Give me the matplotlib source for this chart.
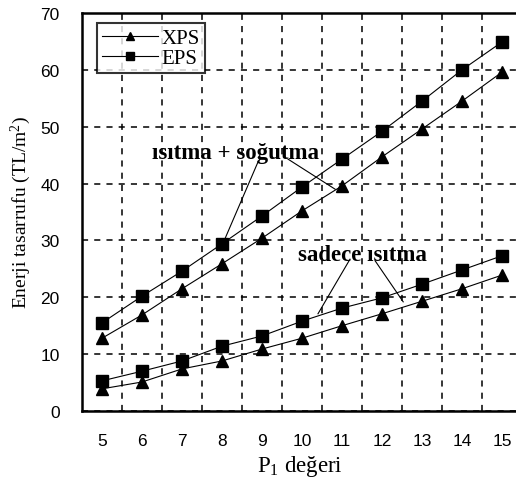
import matplotlib
matplotlib.use("Agg")
import matplotlib.pyplot as plt
import numpy as np

plt.rcParams['mathtext.fontset'] = 'custom'
plt.rcParams['mathtext.rm'] = 'Liberation Serif'
plt.rcParams['mathtext.it'] = 'Liberation Serif:italic'

p1 = [5, 6, 7, 8, 9, 10, 11, 12, 13, 14, 15]
# ısıtma + soğutma
xps_hc = [12.8, 16.9, 21.5, 25.9, 30.4, 35.2, 39.6, 44.7, 49.6, 54.5, 59.6]
eps_hc = [15.5, 20.2, 24.6, 29.4, 34.3, 39.4, 44.3, 49.2, 54.5, 60.0, 64.9]
# sadece ısıtma
xps_h = [3.9, 5.1, 7.4, 8.8, 10.9, 12.8, 15.0, 17.1, 19.3, 21.5, 23.9]
eps_h = [5.3, 7.0, 8.8, 11.4, 13.2, 15.8, 18.1, 19.9, 22.3, 24.8, 27.3]

fig = plt.figure(figsize=(5.16, 4.89), dpi=100)
ax = fig.add_axes([82 / 516, 77 / 489, 440 / 516, 398 / 489])

line_kw = dict(color='black', lw=0.8, markersize=8.5)
l1, = ax.plot(p1, xps_hc, marker='^', **line_kw)
l2, = ax.plot(p1, eps_hc, marker='s', **line_kw)
ax.plot(p1, xps_h, marker='^', **line_kw)
ax.plot(p1, eps_h, marker='s', **line_kw)

ax.set_xlim(4.5, 15.5)
ax.set_ylim(0, 70)
ax.set_xticks(p1)
ax.set_yticks(np.arange(0, 71, 10))
ax.set_xticks(np.arange(5.5, 15.5, 1), minor=True)
ax.tick_params(axis='both', which='both', length=0, labelsize=12.5)
ax.tick_params(axis='x', pad=16)
ax.tick_params(axis='y', pad=16)
for lab in ax.get_xticklabels() + ax.get_yticklabels():
    lab.set_fontfamily('Liberation Sans')

ax.grid(True, axis='x', which='minor', color='black', ls=(0, (4, 4)), lw=1.1)
ax.grid(True, axis='y', which='major', color='black', ls=(0, (4, 4)), lw=1.1)
ax.set_axisbelow(True)
for s in ax.spines.values():
    s.set_linewidth(1.8)

ax.set_ylabel('Enerji tasarrufu (TL/m$^2$)', fontfamily='Liberation Serif',
              fontsize=14)
ax.yaxis.set_label_coords(-0.112, 0.5)
ax.set_xlabel('P$_1$ değeri', fontfamily='Liberation Serif', fontsize=16.5)
ax.xaxis.set_label_coords(218 / 440, -0.105)

leg = ax.legend([l1, l2], ['XPS', 'EPS'], loc='upper left',
                bbox_to_anchor=(0.01, 1.0), frameon=True, fancybox=False,
                edgecolor='black', handlelength=2.7, handletextpad=0.15,
                borderpad=0.25, labelspacing=0.0, markerscale=0.75,
                prop={'family': 'Liberation Serif', 'size': 15})
leg.get_frame().set_linewidth(1.5)

txt_kw = dict(fontfamily='Liberation Serif', fontweight='bold', fontsize=16.5,
              ha='center', va='center')
ax.text(8.35, 45.5, 'ısıtma + soğutma', **txt_kw)
ax.plot([8.9, 8.05], [43.8, 29.9], color='black', lw=0.8)
ax.plot([9.65, 10.83], [44.3, 39.0], color='black', lw=0.8)

ax.text(11.5, 27.6, 'sadece ısıtma', **txt_kw)
ax.plot([11.2, 10.4], [26.7, 17.1], color='black', lw=0.8)
ax.plot([11.83, 12.53], [26.4, 19.2], color='black', lw=0.8)

fig.savefig('out.png', dpi=100)
